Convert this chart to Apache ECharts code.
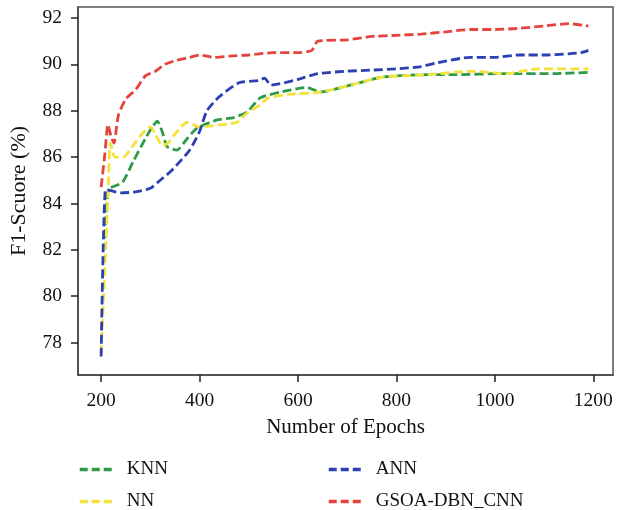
<!DOCTYPE html>
<html>
<head>
<meta charset="utf-8">
<script src="https://cdn.jsdelivr.net/npm/echarts@6/dist/echarts.min.js"></script>
<style>
  html, body { margin: 0; padding: 0; background: #fff; }
  #chart { width: 622px; height: 510px; }
</style>
</head>
<body>
<div id="chart"></div>
<script>
// epochs and F1 scores
const knnEpochs = [208, 215, 243, 265, 290, 304, 314, 324, 334, 354, 375, 395, 436, 469, 497, 523, 564, 619, 645, 706, 773, 863, 916, 1017, 1119, 1190];
const knnScores = [82.5, 84.6, 84.9, 85.8, 86.8, 87.3, 87.55, 87.1, 86.45, 86.3, 86.8, 87.25, 87.6, 87.7, 87.95, 88.55, 88.8, 89.0, 88.8, 89.1, 89.45, 89.55, 89.55, 89.6, 89.6, 89.65];

const nnEpochs = [200, 215, 219, 228, 245, 265, 285, 300, 310, 324, 336, 354, 375, 400, 448, 476, 497, 523, 540, 580, 645, 706, 773, 863, 950, 1025, 1086, 1190];
const nnScores = [77.5, 84.9, 86.6, 86.0, 86.0, 86.5, 87.05, 87.3, 87.0, 86.5, 86.6, 87.1, 87.5, 87.3, 87.4, 87.5, 87.9, 88.25, 88.55, 88.7, 88.8, 89.1, 89.45, 89.55, 89.7, 89.6, 89.8, 89.8];

const annEpochs = [200, 209, 220, 240, 270, 300, 320, 340, 360, 380, 400, 415, 440, 480, 520, 532, 545, 600, 640, 700, 750, 800, 850, 880, 950, 1000, 1050, 1100, 1150, 1175, 1190];
const annScores = [77.4, 84.6, 84.55, 84.45, 84.5, 84.65, 85.0, 85.35, 85.8, 86.3, 87.1, 88.0, 88.6, 89.2, 89.3, 89.4, 89.1, 89.35, 89.6, 89.7, 89.75, 89.8, 89.9, 90.05, 90.3, 90.3, 90.4, 90.4, 90.45, 90.5, 90.6];

const gsoaEpochs = [200, 207, 214, 220, 226, 235, 250, 270, 290, 310, 330, 350, 380, 400, 430, 460, 500, 550, 600, 628, 640, 700, 750, 800, 850, 900, 950, 1000, 1050, 1100, 1150, 1190];
const gsoaScores = [84.7, 86.0, 87.4, 86.9, 86.6, 87.8, 88.5, 88.9, 89.5, 89.7, 90.0, 90.15, 90.3, 90.4, 90.3, 90.35, 90.4, 90.5, 90.5, 90.6, 91.0, 91.05, 91.2, 91.25, 91.3, 91.4, 91.5, 91.5, 91.55, 91.65, 91.75, 91.65];

const xTicks = [200, 400, 600, 800, 1000, 1200];
const yTicks = [78, 80, 82, 84, 86, 88, 90, 92];

const pairs = (xs, ys) => xs.map((x, i) => [x, ys[i]]);
const font = '"Liberation Serif", "DejaVu Serif", serif';

const makeSeries = (name, xs, ys, color) => ({
  name: name,
  type: 'line',
  data: pairs(xs, ys),
  symbol: 'none',
  smooth: 0.2,
  lineStyle: { color: color, width: 2.8, type: [9, 4] },
  itemStyle: { color: color }
});

const chart = echarts.init(document.getElementById('chart'));

const legendBase = {
  orient: 'vertical',
  top: 455,
  height: 80,
  itemWidth: 34,
  itemHeight: 14,
  itemGap: 13,
  textStyle: { fontFamily: font, fontSize: 19, color: '#111', padding: [0, 0, 0, 8] },
  itemStyle: { opacity: 0 },
  lineStyle: { width: 3.5, type: [8, 4] }
};

chart.setOption({
  animation: false,
  grid: {
    left: 78, top: 7, right: 9, bottom: 135,
    show: true, borderColor: '#555', borderWidth: 1.5
  },
  legend: [
    Object.assign({}, legendBase, { left: 73, data: ['KNN', 'NN'] }),
    Object.assign({}, legendBase, { left: 322, data: ['ANN', 'GSOA-DBN_CNN'] })
  ],
  xAxis: {
    type: 'value',
    min: 153,
    max: 1240,
    name: 'Number of Epochs',
    nameLocation: 'middle',
    nameGap: 42,
    nameTextStyle: { fontFamily: font, fontSize: 21, color: '#111' },
    axisLine: { lineStyle: { color: '#444', width: 1.5 } },
    axisTick: { length: 7, lineStyle: { color: '#222', width: 1.5 }, customValues: xTicks },
    axisLabel: { fontFamily: font, fontSize: 19.5, color: '#111', margin: 16, customValues: xTicks, formatter: v => String(v) },
    splitLine: { show: false }
  },
  yAxis: {
    type: 'value',
    min: 76.6,
    max: 92.47,
    name: 'F1-Scuore (%)',
    nameLocation: 'middle',
    nameGap: 48,
    nameTextStyle: { fontFamily: font, fontSize: 22, color: '#111' },
    axisLine: { show: true, lineStyle: { color: '#444', width: 1.5 } },
    axisTick: { show: true, length: 7, lineStyle: { color: '#222', width: 1.5 }, customValues: yTicks },
    axisLabel: { fontFamily: font, fontSize: 19.5, color: '#111', margin: 16, customValues: yTicks, formatter: v => String(v) },
    splitLine: { show: false }
  },
  series: [
    makeSeries('KNN', knnEpochs, knnScores, '#2f9a48'),
    makeSeries('NN', nnEpochs, nnScores, '#f3e23a'),
    makeSeries('ANN', annEpochs, annScores, '#2c40b2'),
    makeSeries('GSOA-DBN_CNN', gsoaEpochs, gsoaScores, '#e6433d')
  ]
});
</script>
</body>
</html>
